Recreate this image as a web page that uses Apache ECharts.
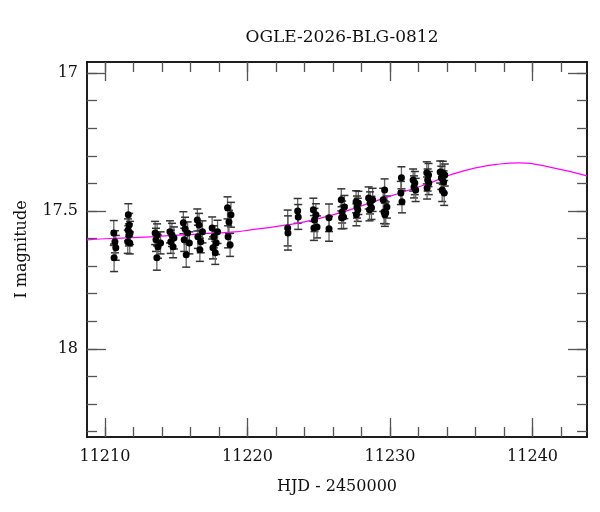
<!DOCTYPE html>
<html>
<head>
<meta charset="utf-8">
<script src="https://cdn.jsdelivr.net/npm/echarts@6/dist/echarts.min.js"></script>
<style>
html,body{margin:0;padding:0;background:#fff}
#chart{width:600px;height:512px}
</style>
</head>
<body>
<div id="chart"></div>
<script>
// photometry: HJD-2450000, I mag, error
const hjd = [
  11210.62,11210.70,11210.76,11210.64,
  11211.64,11211.70,11211.62,11211.76,11211.68,11211.60,11211.74,
  11213.52,11213.66,11213.58,11213.90,11213.72,11213.64,
  11214.56,11214.70,11214.84,11214.62,11214.78,
  11215.50,11215.62,11215.80,11215.56,11215.92,11215.70,
  11216.48,11216.60,11216.84,11216.52,11216.72,11216.66,
  11217.52,11217.90,11217.64,11217.80,11217.58,11217.74,
  11218.60,11218.84,11218.70,11218.64,11218.78,
  11222.82,11222.84,
  11223.52,11223.56,
  11224.62,11224.80,11224.70,11224.88,11224.66,
  11225.72,11225.72,
  11226.58,11226.80,11226.64,11226.74,11226.60,
  11227.62,11227.78,11227.68,11227.74,11227.64,
  11228.50,11228.78,11228.60,11228.70,11228.56,
  11229.62,11229.52,11229.78,11229.58,11229.70,11229.64,
  11230.80,11230.76,11230.84,
  11231.62,11231.74,11231.68,11231.80,
  11232.58,11232.70,11232.64,11232.72,11232.60,
  11233.52,11233.70,11233.84,11233.60,11233.76,11233.66,11233.80
];
const mag = [
  17.580,17.612,17.634,17.670,
  17.514,17.551,17.569,17.580,17.587,17.612,17.616,
  17.580,17.587,17.605,17.616,17.630,17.670,
  17.576,17.587,17.598,17.612,17.630,
  17.543,17.565,17.580,17.605,17.616,17.659,
  17.533,17.551,17.576,17.594,17.612,17.641,
  17.562,17.576,17.594,17.616,17.634,17.652,
  17.489,17.514,17.540,17.594,17.623,
  17.562,17.580,
  17.500,17.522,
  17.496,17.514,17.533,17.558,17.562,
  17.525,17.565,
  17.460,17.486,17.504,17.522,17.525,
  17.467,17.471,17.486,17.496,17.514,
  17.453,17.460,17.471,17.489,17.496,
  17.424,17.460,17.486,17.504,17.507,17.514,
  17.380,17.435,17.467,
  17.388,17.399,17.413,17.424,
  17.362,17.370,17.388,17.399,17.417,
  17.359,17.362,17.370,17.380,17.395,17.424,17.435
];
const err = [
  0.045,0.040,0.045,0.050,
  0.040,0.042,0.040,0.042,0.040,0.042,0.040,
  0.042,0.040,0.042,0.040,0.042,0.045,
  0.040,0.042,0.040,0.042,0.040,
  0.040,0.042,0.040,0.042,0.040,0.045,
  0.040,0.042,0.040,0.042,0.040,0.042,
  0.040,0.042,0.040,0.042,0.040,0.042,
  0.040,0.045,0.042,0.040,0.042,
  0.065,0.062,
  0.045,0.045,
  0.042,0.040,0.042,0.040,0.045,
  0.050,0.045,
  0.040,0.042,0.040,0.042,0.040,
  0.040,0.042,0.040,0.042,0.040,
  0.040,0.042,0.040,0.042,0.040,
  0.040,0.042,0.040,0.042,0.040,0.042,
  0.040,0.042,0.040,
  0.040,0.042,0.040,0.042,
  0.040,0.042,0.040,0.042,0.040,
  0.040,0.042,0.040,0.042,0.040,0.042,0.045
];

// model light curve
const modelHjd = [11208.74,11210.0,11213.2,11216.7,11219.1,11220.2,11222.3,11224.0,11226.5,11228.6,11230.7,11232.8,11234.2,11236.0,11237.7,11239.1,11241.2,11243.82];
const modelMag = [17.605,17.601,17.594,17.583,17.576,17.569,17.554,17.540,17.507,17.471,17.435,17.399,17.370,17.344,17.330,17.326,17.341,17.373];

const xMajor = [11210,11220,11230,11240];
const xMinor = [11210,11212,11214,11216,11218,11220,11222,11224,11226,11228,11230,11232,11234,11236,11238,11240,11242];
const yMajor = [17,17.5,18];
const yMinor = [17.0,17.1,17.2,17.3,17.4,17.5,17.6,17.7,17.8,17.9,18.0,18.1,18.2,18.3];

const X_MIN = 11208.74, X_MAX = 11243.82;
const Y_MIN = 16.96, Y_MAX = 18.32;
const FONT = 'DejaVu Serif';

function xAx(pos, ticks, len, main) {
  return {
    type: 'value', position: pos, min: X_MIN, max: X_MAX,
    name: main ? 'HJD - 2450000' : '',
    nameLocation: 'middle', nameGap: 42,
    nameTextStyle: {fontFamily: FONT, fontSize: 16, color: '#111'},
    axisLine: {show: true, onZero: false, lineStyle: {color: '#111', width: 1.5}},
    axisTick: {show: true, inside: true, length: len, customValues: ticks, lineStyle: {color: '#555', width: 1.3}},
    axisLabel: {show: main, customValues: xMajor, margin: 12, fontFamily: FONT, fontSize: 16, color: '#111',
      formatter: v => String(v)},
    splitLine: {show: false}
  };
}
function yAx(pos, ticks, len, main) {
  return {
    type: 'value', position: pos, min: Y_MIN, max: Y_MAX, inverse: true,
    name: main ? 'I magnitude' : '',
    nameLocation: 'middle', nameGap: 57,
    nameTextStyle: {fontFamily: FONT, fontSize: 16, color: '#111'},
    axisLine: {show: true, onZero: false, lineStyle: {color: '#111', width: 1.5}},
    axisTick: {show: true, inside: true, length: len, customValues: ticks, lineStyle: {color: '#555', width: 1.3}},
    axisLabel: {show: main, customValues: yMajor, margin: 9, fontFamily: FONT, fontSize: 16, color: '#111',
      formatter: v => String(v)},
    splitLine: {show: false}
  };
}

var myChart = echarts.init(document.getElementById('chart'));
var option = {
  animation: false,
  backgroundColor: '#fff',
  title: {
    text: 'OGLE-2026-BLG-0812',
    left: 337, top: 24, textAlign: 'center',
    textStyle: {fontFamily: FONT, fontSize: 17, fontWeight: 'normal', color: '#111'}
  },
  grid: {left: 87, right: 13, top: 62, bottom: 75},
  xAxis: [
    xAx('bottom', xMajor, 19, true),
    xAx('bottom', xMinor, 10, false),
    xAx('top', xMajor, 19, false),
    xAx('top', xMinor, 10, false)
  ],
  yAxis: [
    yAx('left', yMajor, 19, true),
    yAx('left', yMinor, 10, false),
    yAx('right', yMajor, 19, false),
    yAx('right', yMinor, 10, false)
  ],
  series: [
    {
      type: 'custom',
      z: 2,
      clip: true,
      data: hjd.map((t, i) => [t, mag[i] - err[i], mag[i] + err[i]]),
      encode: {x: 0, y: [1, 2]},
      renderItem: function (params, api) {
        var p1 = api.coord([api.value(0), api.value(1)]);
        var p2 = api.coord([api.value(0), api.value(2)]);
        var w = 4;
        return {
          type: 'group',
          children: [
            {type: 'line', shape: {x1: p1[0], y1: p1[1], x2: p2[0], y2: p2[1]}, style: {stroke: '#666', lineWidth: 1.3}},
            {type: 'line', shape: {x1: p1[0] - w, y1: p1[1], x2: p1[0] + w, y2: p1[1]}, style: {stroke: '#333', lineWidth: 1.5}},
            {type: 'line', shape: {x1: p2[0] - w, y1: p2[1], x2: p2[0] + w, y2: p2[1]}, style: {stroke: '#333', lineWidth: 1.5}}
          ]
        };
      }
    },
    {
      type: 'line',
      z: 3,
      data: modelHjd.map((t, i) => [t, modelMag[i]]),
      smooth: true,
      showSymbol: false,
      lineStyle: {color: '#ff00ff', width: 1.2}
    },
    {
      type: 'scatter',
      z: 4,
      data: hjd.map((t, i) => [t, mag[i]]),
      symbol: 'circle',
      symbolSize: 7,
      itemStyle: {color: '#000', opacity: 1}
    }
  ]
};
option && myChart.setOption(option);
</script>
</body>
</html>
